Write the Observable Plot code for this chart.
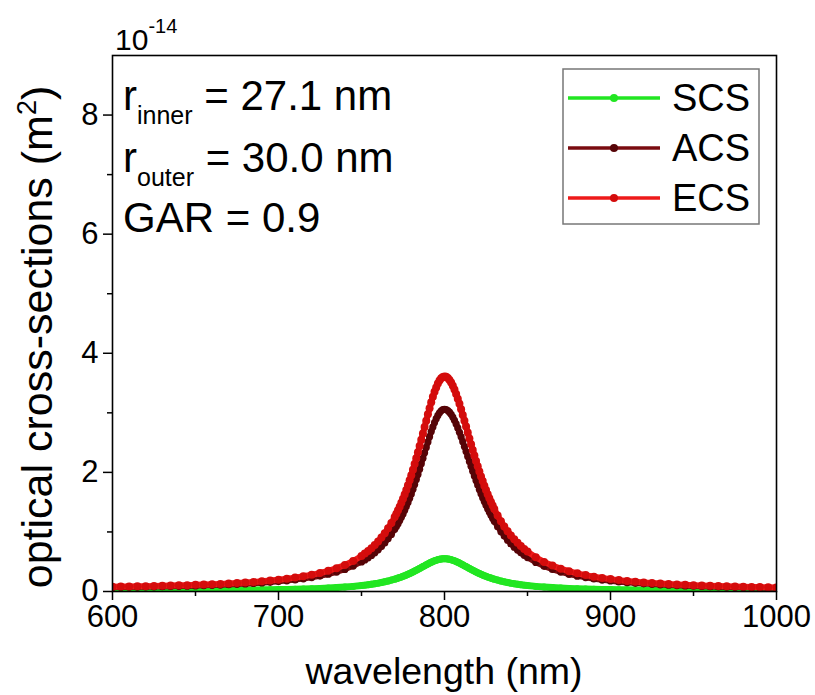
<!DOCTYPE html>
<html><head><meta charset="utf-8">
<script src="https://cdn.jsdelivr.net/npm/d3@7"></script>
<script src="https://cdn.jsdelivr.net/npm/@observablehq/plot@0.6"></script>
<style>
body{margin:0;background:#fff}
svg text{font-family:"Liberation Sans",Arial,sans-serif}
</style>
</head><body><div id="chart"></div>
<script>
// wavelength (nm)
const wavelength = [
600,605,610,615,620,625,630,635,640,645,650,655,660,665,670,675,680,685,690,695,700,705,710,715,720,725,730,735,740,745,750,
752,754,756,758,760,762,764,766,768,
770,771,772,773,774,775,776,777,778,779,780,781,782,783,784,785,786,787,788,789,790,791,792,793,794,795,796,797,798,799,800,
801,802,803,804,805,806,807,808,809,810,811,812,813,814,815,816,817,818,819,820,821,822,823,824,825,826,827,828,829,830,
832,834,836,838,840,842,844,846,848,
850,855,860,865,870,875,880,885,890,895,900,905,910,915,920,925,930,935,940,945,950,955,960,965,970,975,980,985,990,995,1000];

// scattering cross-section (x 1e-14 m^2)
const scs = [
.012,.012,.013,.013,.014,.014,.015,.015,.016,.017,.018,.018,.019,.020,.022,.023,.024,.026,.028,.030,.032,.035,.038,.042,.047,.052,.058,.066,.075,.086,.100,
.107,.114,.122,.131,.140,.151,.163,.176,.191,
.207,.215,.225,.234,.244,.255,.266,.278,.290,.302,.315,.329,.343,.357,.372,.387,.403,.418,.433,.449,.463,.478,.491,.504,.515,.525,.534,.541,.546,.549,.550,
.549,.546,.541,.534,.525,.515,.504,.491,.478,.463,.449,.433,.418,.403,.387,.372,.357,.343,.329,.315,.302,.290,.278,.266,.255,.244,.234,.225,.215,.207,
.191,.176,.163,.151,.140,.131,.122,.114,.107,
.100,.086,.075,.066,.058,.052,.047,.042,.038,.035,.032,.030,.028,.026,.024,.023,.022,.020,.019,.018,.018,.017,.016,.015,.015,.014,.014,.013,.013,.012,.012];

// absorption cross-section
const acs = [
.069,.071,.072,.075,.076,.079,.081,.085,.087,.090,.094,.099,.103,.108,.113,.120,.127,.135,.143,.154,.166,.179,.195,.213,.233,.259,.290,.326,.371,.427,.497,
.530,.566,.606,.650,.700,.755,.816,.884,.959,
1.044,1.091,1.139,1.191,1.246,1.303,1.363,1.427,1.494,1.565,1.639,1.716,1.796,1.880,1.966,2.054,2.144,2.236,2.329,2.420,2.512,2.600,2.685,2.764,2.837,2.902,2.957,3.001,3.033,3.053,3.060,
3.055,3.038,3.011,2.975,2.930,2.875,2.813,2.746,2.673,2.597,2.516,2.434,2.351,2.267,2.184,2.101,2.020,1.940,1.862,1.787,1.714,1.643,1.576,1.511,1.449,1.390,1.333,1.279,1.228,1.178,
1.087,1.005,.930,.862,.801,.745,.695,.649,.607,
.570,.488,.422,.369,.326,.289,.258,.233,.211,.192,.176,.161,.149,.138,.129,.120,.112,.106,.099,.094,.088,.084,.080,.076,.072,.070,.066,.064,.061,.059,.057];

// extinction cross-section
const ecs = [
.081,.083,.085,.088,.090,.093,.096,.100,.103,.107,.112,.117,.122,.128,.135,.143,.151,.161,.171,.184,.198,.214,.233,.255,.280,.311,.348,.392,.446,.513,.597,
.637,.680,.728,.781,.840,.906,.979,1.060,1.150,
1.251,1.306,1.364,1.425,1.490,1.558,1.629,1.705,1.784,1.867,1.954,2.045,2.139,2.237,2.338,2.441,2.547,2.654,2.762,2.869,2.975,3.078,3.176,3.268,3.352,3.427,3.491,3.542,3.579,3.602,3.610,
3.604,3.584,3.552,3.509,3.455,3.390,3.317,3.237,3.151,3.060,2.965,2.867,2.769,2.670,2.571,2.473,2.377,2.283,2.191,2.102,2.016,1.933,1.854,1.777,1.704,1.634,1.567,1.504,1.443,1.385,
1.278,1.181,1.093,1.013,.941,.876,.817,.763,.714,
.670,.574,.497,.435,.384,.341,.305,.275,.249,.227,.208,.191,.177,.164,.153,.143,.134,.126,.118,.112,.106,.101,.096,.091,.087,.084,.080,.077,.074,.071,.069];

const seriesNames = ["SCS", "ACS", "ECS"];
const seriesKeys = ["scs", "acs", "ecs"];
const xTicksMajor = [600, 700, 800, 900, 1000];
const xTicksMinor = [650, 750, 850, 950];
const yTicksMajor = [0, 2, 4, 6, 8];
const yTicksMinor = [1, 3, 5, 7];
const xDomain = [600, 1000];
const yDomain = [0, 9];
const annotations = [
  {main: "r", sub: "inner", rest: " = 27.1 nm"},
  {main: "r", sub: "outer", rest: " = 30.0 nm"},
  {main: "GAR = 0.9", sub: "", rest: ""}
];

const styles = {
  scs: {line: "#22e622", dot: "#22e622", width: 7, r: 3.5},
  acs: {line: "#7a0c10", dot: "#560407", width: 5.5, r: 3.6},
  ecs: {line: "#ee1a1a", dot: "#d40c0c", width: 6, r: 4}
};

const rows = wavelength.map((w, i) => ({w, scs: scs[i], acs: acs[i], ecs: ecs[i]}));

const dataMarks = [];
for (const k of seriesKeys) {
  const s = styles[k];
  dataMarks.push(Plot.line(rows, {x: "w", y: k, stroke: s.line, strokeWidth: s.width, clip: true}));
  dataMarks.push(Plot.dot(rows, {x: "w", y: k, r: s.r, fill: s.dot, clip: true}));
}

const chart = Plot.plot({
  width: 815, height: 695,
  marginLeft: 112, marginRight: 39, marginTop: 55, marginBottom: 104,
  style: {fontFamily: "Liberation Sans, Arial, sans-serif", fontSize: "31px", background: "#fff", color: "#000", overflow: "visible"},
  x: {domain: xDomain},
  y: {domain: yDomain},
  marks: [
    ...dataMarks,
    Plot.frame({stroke: "#000", strokeWidth: 1.6}),
    Plot.axisX({ticks: xTicksMajor, tickSize: 9, tickPadding: 4, tickFormat: d => String(d), label: null, strokeWidth: 1.5}),
    Plot.axisX({ticks: xTicksMinor, tickSize: 5, tickFormat: () => "", label: null, strokeWidth: 1.5}),
    Plot.axisY({ticks: yTicksMajor, tickSize: 9, tickPadding: 5, tickFormat: d => String(d), label: null, strokeWidth: 1.5}),
    Plot.axisY({ticks: yTicksMinor, tickSize: 5, tickFormat: () => "", label: null, strokeWidth: 1.5})
  ]
});

document.getElementById("chart").appendChild(chart);

(function () {
  const svg = d3.select(chart);
  const xs = chart.scale("x"), ys = chart.scale("y");
  const pl = xs.apply(xDomain[0]), pr = xs.apply(xDomain[1]);
  const pt = ys.apply(yDomain[1]), pb = ys.apply(yDomain[0]);
  const g = svg.append("g").attr("font-family", "Liberation Sans, Arial, sans-serif")
    .attr("fill", "#000").attr("text-anchor", "start");

  // exponent label
  const ex = g.append("text").attr("x", pl + 3).attr("y", pt - 5).attr("font-size", 30).text("10");
  ex.append("tspan").attr("dy", -17).attr("font-size", 20).text("-14");

  // annotations
  const annY = [pt + 55, pt + 117, pt + 177];
  annotations.forEach((a, i) => {
    const t = g.append("text").attr("x", pl + 11).attr("y", annY[i]).attr("font-size", 42).text(a.main);
    if (a.sub) {
      t.append("tspan").attr("dy", 14).attr("font-size", 25).text(a.sub);
      t.append("tspan").attr("dy", -14).attr("font-size", 42).text(a.rest);
    }
  });

  // legend
  const lg = g.append("g");
  lg.append("rect").attr("x", pr - 213).attr("y", pt + 14).attr("width", 196).attr("height", 155)
    .attr("fill", "#fff").attr("stroke", "#777").attr("stroke-width", 1.5);
  seriesKeys.forEach((k, i) => {
    const yy = pt + 43 + 50 * i;
    lg.append("line").attr("x1", pr - 208).attr("x2", pr - 116).attr("y1", yy).attr("y2", yy)
      .attr("stroke", styles[k].line).attr("stroke-width", 3.5);
    lg.append("circle").attr("cx", pr - 162).attr("cy", yy).attr("r", 4).attr("fill", styles[k].dot);
    lg.append("text").attr("x", pr - 104).attr("y", yy + 13).attr("font-size", 38).text(seriesNames[i]);
  });

  // axis titles
  g.append("text").attr("x", (pl + pr) / 2).attr("y", pb + 93).attr("text-anchor", "middle")
    .attr("font-size", 37.5).text("wavelength (nm)");
  const cy = (pt + pb) / 2 + 14;
  const yl = g.append("text").attr("transform", `translate(52,${cy}) rotate(-90)`).attr("text-anchor", "middle")
    .attr("font-size", 43).text("optical cross-sections (m");
  yl.append("tspan").attr("dy", -16).attr("font-size", 27).text("2");
  yl.append("tspan").attr("dy", 16).attr("font-size", 43).text(")");
})();
</script>
</body></html>
